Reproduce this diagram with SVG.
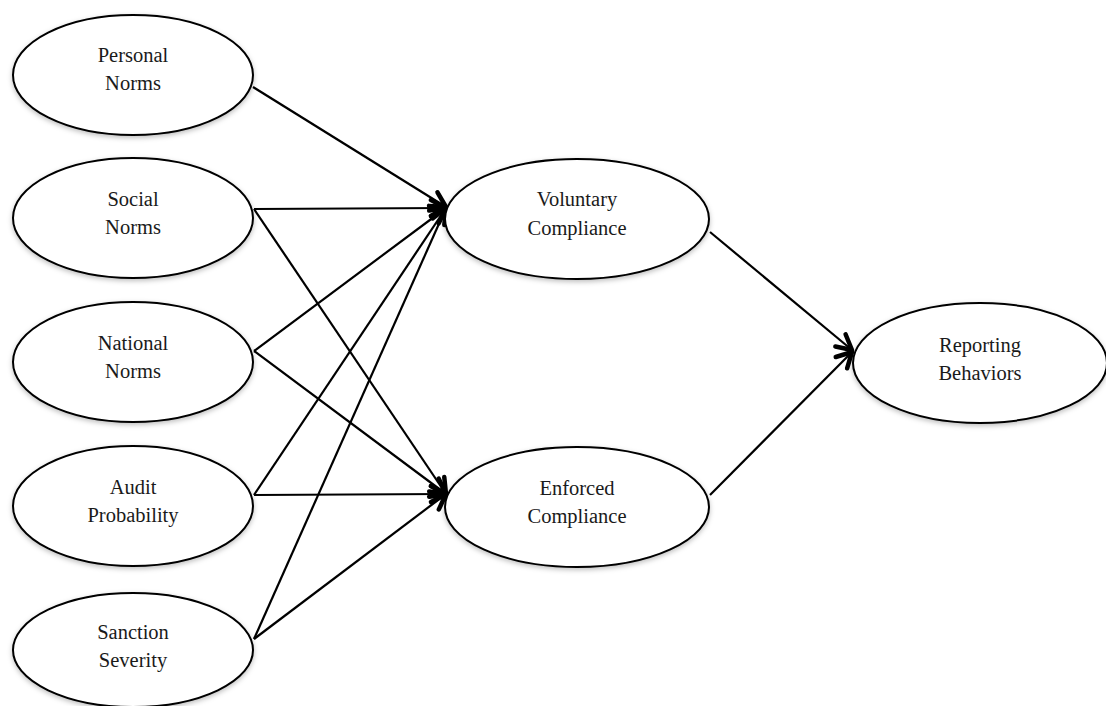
<svg xmlns="http://www.w3.org/2000/svg" width="1106" height="706" viewBox="0 0 1106 706">
  <style>
    .node ellipse { fill: #ffffff; stroke: #000000; stroke-width: 2; filter: url(#shadow); }
    .node text { font-family: "Liberation Serif", "Times New Roman", serif; font-size: 20.5px; fill: #1a1a1a; text-anchor: middle; }
    .edges line { stroke: #000000; stroke-width: 2.2; marker-end: url(#arrow); }
  </style>
  <defs>
    <filter id="shadow" x="-10%" y="-10%" width="120%" height="130%">
      <feDropShadow dx="0" dy="2" stdDeviation="2.5" flood-color="#000000" flood-opacity="0.25"/>
    </filter>
    <marker id="arrow" markerUnits="userSpaceOnUse" viewBox="0 0 22 22" refX="19" refY="11" markerWidth="22" markerHeight="22" orient="auto">
      <path d="M4,3 L19,11 L4,19" fill="none" stroke="#000000" stroke-width="4.5" stroke-linecap="round" stroke-linejoin="round"/>
    </marker>
  </defs>
  <rect width="1106" height="706" fill="#ffffff"/>

  <g id="edges" class="edges">
    <line x1="253" y1="87" x2="446" y2="207"/>
    <line x1="254" y1="209" x2="446" y2="208"/>
    <line x1="254" y1="209" x2="446" y2="494"/>
    <line x1="254" y1="351" x2="446" y2="208"/>
    <line x1="254" y1="351" x2="446" y2="494"/>
    <line x1="254" y1="495" x2="446" y2="208"/>
    <line x1="254" y1="495" x2="446" y2="494"/>
    <line x1="254" y1="639" x2="446" y2="208"/>
    <line x1="254" y1="639" x2="446" y2="494"/>
    <line x1="710" y1="232" x2="852" y2="350"/>
    <line x1="710" y1="495" x2="852" y2="352"/>
  </g>

  <g id="personal-norms" class="node">
    <ellipse cx="133" cy="75" rx="120" ry="60"/>
    <text x="133" y="62">Personal</text>
    <text x="133" y="90">Norms</text>
  </g>
  <g id="social-norms" class="node">
    <ellipse cx="133" cy="218" rx="120" ry="60"/>
    <text x="133" y="206">Social</text>
    <text x="133" y="234">Norms</text>
  </g>
  <g id="national-norms" class="node">
    <ellipse cx="133" cy="362" rx="120" ry="60"/>
    <text x="133" y="350">National</text>
    <text x="133" y="378">Norms</text>
  </g>
  <g id="audit-probability" class="node">
    <ellipse cx="133" cy="506" rx="120" ry="60"/>
    <text x="133" y="494">Audit</text>
    <text x="133" y="522">Probability</text>
  </g>
  <g id="sanction-severity" class="node">
    <ellipse cx="133" cy="650" rx="120" ry="57"/>
    <text x="133" y="639">Sanction</text>
    <text x="133" y="667">Severity</text>
  </g>
  <g id="voluntary-compliance" class="node">
    <ellipse cx="577" cy="219" rx="132" ry="60"/>
    <text x="577" y="206">Voluntary</text>
    <text x="577" y="235">Compliance</text>
  </g>
  <g id="enforced-compliance" class="node">
    <ellipse cx="577" cy="507" rx="132" ry="60"/>
    <text x="577" y="495">Enforced</text>
    <text x="577" y="523">Compliance</text>
  </g>
  <g id="reporting-behaviors" class="node">
    <ellipse cx="980" cy="363" rx="127" ry="60"/>
    <text x="980" y="352">Reporting</text>
    <text x="980" y="380">Behaviors</text>
  </g>
</svg>
